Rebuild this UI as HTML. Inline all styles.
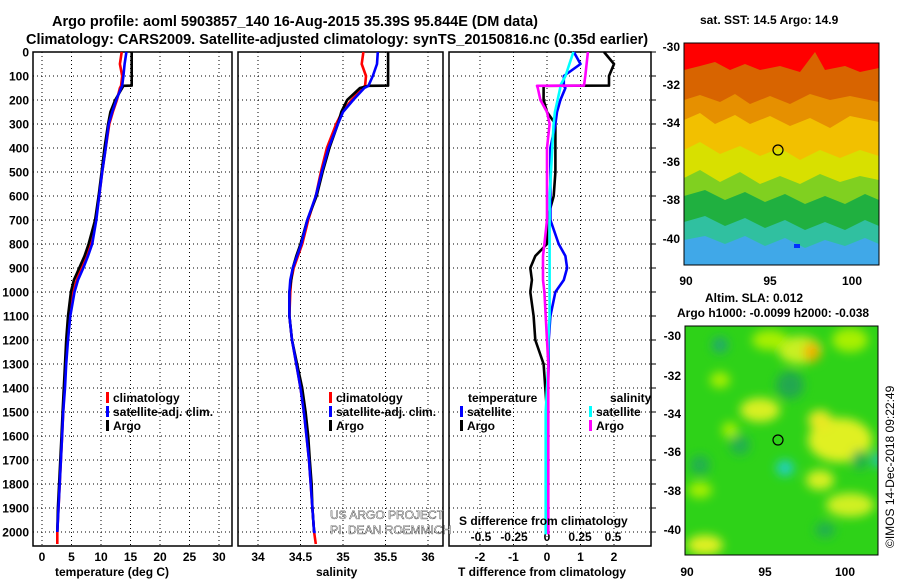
<!DOCTYPE html>
<html><head><meta charset="utf-8"><style>
html,body{margin:0;padding:0;background:#fff}
svg{display:block;font-family:"Liberation Sans",sans-serif}
.b{font-weight:bold;font-size:12px}
</style></head><body>
<svg id="fig" width="900" height="580" viewBox="0 0 900 580">
<defs>
<filter id="blur" x="-50%" y="-50%" width="200%" height="200%"><feGaussianBlur stdDeviation="5"/></filter>
<clipPath id="cm1"><rect x="684" y="43" width="195" height="222"/></clipPath>
<clipPath id="cm2"><rect x="685" y="326" width="193" height="229"/></clipPath>
</defs>
<text x="52" y="26" font-size="14.5" font-weight="bold">Argo profile: aoml 5903857_140 16-Aug-2015 35.39S 95.844E (DM data)</text>
<text x="26" y="44" font-size="14.5" font-weight="bold">Climatology: CARS2009. Satellite-adjusted climatology: synTS_20150816.nc (0.35d earlier)</text>
<g id="panels"></g>
<g class="b">
<rect x="106" y="392" width="3" height="11" fill="#f00"/><text x="113" y="402">climatology</text>
<rect x="106" y="406" width="3" height="11" fill="#00f"/><text x="113" y="416">satellite-adj. clim.</text>
<rect x="106" y="420" width="3" height="11" fill="#000"/><text x="113" y="430">Argo</text>
</g>
<g class="b">
<rect x="329" y="392" width="3" height="11" fill="#f00"/><text x="336" y="402">climatology</text>
<rect x="329" y="406" width="3" height="11" fill="#00f"/><text x="336" y="416">satellite-adj. clim.</text>
<rect x="329" y="420" width="3" height="11" fill="#000"/><text x="336" y="430">Argo</text>
</g>
<g class="b">
<text x="468" y="402">temperature</text>
<rect x="460" y="406" width="3" height="11" fill="#00f"/><text x="467" y="416">satellite</text>
<rect x="460" y="420" width="3" height="11" fill="#000"/><text x="467" y="430">Argo</text>
<text x="610" y="402">salinity</text>
<rect x="589" y="406" width="3" height="11" fill="#0ff"/><text x="596" y="416">satellite</text>
<rect x="589" y="420" width="3" height="11" fill="#f0f"/><text x="596" y="430">Argo</text>
</g>
<g font-size="12" fill="#fff" stroke="#000" stroke-width="0.35">
<text x="330" y="519">US ARGO PROJECT</text>
<text x="330" y="534">PI: DEAN ROEMMICH</text>
</g>
<text x="459" y="525" class="b">S difference from climatology</text>
<text x="55" y="576" class="b">temperature (deg C)</text>
<text x="316" y="576" class="b">salinity</text>
<text x="458" y="576" class="b">T difference from climatology</text>

<text x="700" y="24" class="b">sat. SST: 14.5 Argo: 14.9</text>
<g clip-path="url(#cm1)">
<rect x="684" y="43" width="195" height="222" fill="#ff0000"/>
<polygon points="684,70 700,66 715,62 730,70 745,64 760,70 780,66 800,72 815,52 825,70 845,66 860,72 879,68 879,265 684,265" fill="#d86400"/>
<polygon points="684,100 700,95 720,102 735,94 750,104 770,96 790,104 810,94 830,100 850,96 879,102 879,265 684,265" fill="#e69000"/>
<polygon points="684,120 700,113 715,124 735,115 750,124 770,116 790,126 810,118 830,128 850,116 879,122 879,265 684,265" fill="#f2c000"/>
<polygon points="684,150 700,142 720,154 740,146 760,156 780,148 800,160 820,150 840,158 860,150 879,156 879,265 684,265" fill="#d8e000"/>
<polygon points="684,178 700,170 720,182 740,172 760,184 780,176 800,184 820,174 840,182 860,176 879,180 879,265 684,265" fill="#80d020"/>
<polygon points="684,196 705,190 725,200 745,192 765,202 785,194 805,204 825,196 845,204 865,194 879,200 879,265 684,265" fill="#20b040"/>
<polygon points="684,222 705,216 725,226 745,218 765,228 785,220 805,230 825,222 845,230 865,220 879,226 879,265 684,265" fill="#30c0a0"/>
<polygon points="684,240 705,236 725,244 745,236 765,246 785,238 805,248 825,240 845,246 865,238 879,244 879,265 684,265" fill="#40a8e8"/>
<rect x="794" y="244" width="6" height="4" fill="#0030ff"/>
<circle cx="778" cy="150" r="5" fill="none" stroke="#000" stroke-width="1.2"/>
</g>
<rect x="684" y="43" width="195" height="222" fill="none" stroke="#000"/>
<g class="b" text-anchor="end">
<text x="680" y="51">-30</text><text x="680" y="89">-32</text><text x="680" y="127">-34</text><text x="680" y="166">-36</text><text x="680" y="204">-38</text><text x="680" y="243">-40</text>
</g>
<g class="b" text-anchor="middle">
<text x="686" y="285">90</text><text x="770" y="285">95</text><text x="852" y="285">100</text>
</g>

<text x="705" y="302" class="b">Altim. SLA: 0.012</text>
<text x="677" y="317" class="b">Argo h1000: -0.0099 h2000: -0.038</text>
<g clip-path="url(#cm2)">
<rect x="685" y="326" width="193" height="229" fill="#2ed218"/>
<g filter="url(#blur)">
<ellipse cx="800" cy="350" rx="22" ry="14" fill="#c8f020"/>
<ellipse cx="812" cy="352" rx="8" ry="10" fill="#f0b000"/>
<ellipse cx="770" cy="340" rx="18" ry="10" fill="#a8f000"/>
<ellipse cx="850" cy="340" rx="18" ry="12" fill="#a8f000"/>
<ellipse cx="760" cy="410" rx="20" ry="12" fill="#d8f020"/>
<ellipse cx="840" cy="440" rx="32" ry="22" fill="#e0f020"/>
<ellipse cx="820" cy="420" rx="12" ry="10" fill="#e8e820"/>
<ellipse cx="820" cy="480" rx="14" ry="10" fill="#d8f020"/>
<ellipse cx="850" cy="505" rx="24" ry="12" fill="#d0f020"/>
<ellipse cx="705" cy="545" rx="18" ry="10" fill="#e0f020"/>
<ellipse cx="700" cy="490" rx="12" ry="8" fill="#a8f000"/>
<ellipse cx="730" cy="430" rx="8" ry="8" fill="#a8f000"/>
<ellipse cx="720" cy="380" rx="10" ry="8" fill="#a8f000"/>
<ellipse cx="790" cy="385" rx="14" ry="14" fill="#24a850"/>
<ellipse cx="720" cy="345" rx="8" ry="8" fill="#20a870"/>
<ellipse cx="740" cy="445" rx="10" ry="10" fill="#24b050"/>
<ellipse cx="785" cy="468" rx="9" ry="8" fill="#20d0c0"/>
<ellipse cx="700" cy="465" rx="10" ry="10" fill="#24b050"/>
<ellipse cx="825" cy="530" rx="10" ry="8" fill="#24b050"/>
<ellipse cx="860" cy="460" rx="8" ry="10" fill="#24b050"/>
<ellipse cx="878" cy="460" rx="5" ry="8" fill="#20c0c0"/>
</g>
<circle cx="778" cy="440" r="5" fill="none" stroke="#000" stroke-width="1.2"/>
</g>
<rect x="685" y="326" width="193" height="229" fill="none" stroke="#000"/>
<g class="b" text-anchor="end">
<text x="681" y="340">-30</text><text x="681" y="380">-32</text><text x="681" y="418">-34</text><text x="681" y="456">-36</text><text x="681" y="495">-38</text><text x="681" y="534">-40</text>
</g>
<g class="b" text-anchor="middle">
<text x="687" y="576">90</text><text x="765" y="576">95</text><text x="845" y="576">100</text>
</g>
<text transform="translate(894,548) rotate(-90)" font-size="12">©IMOS 14-Dec-2018 09:22:49</text>
</svg>
<script>
const depths=[0,50,100,140,141,150,200,250,300,400,500,600,700,800,850,900,950,1000,1100,1200,1300,1400,1500,1600,1700,1800,1900,2000,2050];
const tArgo=[15.2,15.2,15.2,15.2,13.8,13.6,12.4,11.6,11.2,10.6,10.1,9.6,9.0,7.9,7.2,6.3,5.4,4.9,4.4,4.1,3.9,3.7,3.5,3.3,3.1,2.9,2.7,2.6,2.6];
const tClim=[13.5,13.2,13.6,13.4,13.4,13.2,12.7,12.0,11.4,10.8,10.2,9.7,9.1,8.3,7.6,6.7,5.9,5.3,4.7,4.3,4.0,3.8,3.6,3.4,3.2,3.0,2.8,2.6,2.6];
const tSat=[14.3,14.0,13.8,13.6,13.6,13.4,12.6,11.9,11.3,10.8,10.2,9.7,9.2,8.5,7.8,7.0,6.1,5.5,4.8,4.4,4.1,3.9,3.6,3.4,3.2,3.0,2.8,2.6,2.6];
const sArgo=[35.53,35.53,35.53,35.53,35.3,35.2,35.05,34.98,34.94,34.84,34.76,34.69,34.58,34.5,34.45,34.41,34.39,34.37,34.37,34.40,34.46,34.52,34.56,34.59,34.61,34.63,34.64,34.66,34.66];
const sClim=[35.24,35.22,35.27,35.26,35.26,35.23,35.1,34.99,34.92,34.81,34.74,34.68,34.59,34.52,34.47,34.42,34.39,34.38,34.37,34.40,34.45,34.50,34.54,34.57,34.60,34.62,34.64,34.66,34.68];
const sSat=[35.41,35.40,35.35,35.3,35.3,35.25,35.12,35.0,34.94,34.83,34.75,34.68,34.58,34.51,34.46,34.41,34.38,34.37,34.37,34.40,34.45,34.50,34.54,34.57,34.60,34.62,34.64,34.66,34.68];
const dTArgo=[1.7,2.0,1.85,1.85,-0.1,-0.1,-0.1,0.0,0.25,0.25,0.25,0.2,0.0,0.0,-0.35,-0.5,-0.45,-0.5,-0.4,-0.35,-0.1,-0.05,0,0,0,0,0,0,0];
const dTSat=[0.8,1.0,0.5,0.5,0.5,0.55,0.4,0.3,0.25,0.1,0.1,0.1,0.1,0.35,0.55,0.6,0.5,0.25,0.1,0.05,0.05,0.03,0.02,0.02,0.02,0,0,0,0];
const dSArgo=[0.31,0.3,0.29,0.28,-0.076,-0.07,-0.05,0.0,0.02,0.0,0.0,0.0,0.0,-0.02,-0.03,-0.03,-0.03,-0.02,-0.01,0,0.01,0.01,0.01,0.01,0.01,0.01,0.01,0.01,0.01];
const dSSat=[0.2,0.17,0.14,0.1,0.1,0.1,0.08,0.06,0.05,0.04,0.03,0.02,0.02,0.02,0.02,0.02,0.02,0.02,0.02,0.01,0.01,0,-0.01,-0.01,-0.01,-0.01,-0.01,-0.01,-0.01];
const depthTicks=[0,100,200,300,400,500,600,700,800,900,1000,1100,1200,1300,1400,1500,1600,1700,1800,1900,2000];
const tTicks=[0,5,10,15,20,25,30];
const sTicks=[34,34.5,35,35.5,36];
const sTickLabels=["34","34.5","35","35.5","36"];
const dTTicks=[-2,-1,0,1,2];
const dSTicks=[-0.5,-0.25,0,0.25,0.5];
const dSTickLabels=["-0.5","-0.25","0","0.25","0.5"];

const NS='http://www.w3.org/2000/svg';
const g=document.getElementById('panels');
const top0=52, bot=546;
const yD=d=>top0+d*0.24;
function mk(t,a,p){const e=document.createElementNS(NS,t);for(const k in a)e.setAttribute(k,a[k]);(p||g).appendChild(e);return e;}
function lin(x0,x1,v0,v1){return v=>x0+(v-v0)*(x1-x0)/(v1-v0);}
const panels=[
 {name:'temperature',x0:33,x1:232,fx:lin(42,219,0,30),ticks:tTicks,labels:tTicks.map(String)},
 {name:'salinity',x0:238,x1:443,fx:lin(258,428,34,36),ticks:sTicks,labels:sTickLabels},
 {name:'difference',x0:449,x1:651,fx:lin(547,614,0,2),ticks:dTTicks,labels:dTTicks.map(String)}
];
panels.forEach((p,i)=>{
 const grp=mk('g',{});
 
 
 depthTicks.forEach(d=>{const l=mk('line',{x1:p.x0,x2:p.x1,y1:yD(d),y2:yD(d),stroke:'#000','stroke-width':1,'stroke-dasharray':'1 3'},grp);
  
  
  if(i===0){const t=mk('text',{x:29,y:yD(d)+4.5,'text-anchor':'end',class:'b'},grp);t.textContent=d;
   
   }
  if(i===2){mk('line',{x1:p.x1,x2:p.x1+5,y1:yD(d),y2:yD(d),stroke:'#000'},grp);}
 });
 p.ticks.forEach((v,j)=>{const x=p.fx(v);
  const l=mk('line',{x1:x,x2:x,y1:top0,y2:bot,stroke:'#000','stroke-width':1,'stroke-dasharray':'1 3'},grp);
  
  
  const t=mk('text',{x:x,y:561,'text-anchor':'middle',class:'b'},grp);t.textContent=p.labels[j];
  
  
 });
 const fr=mk('rect',{x:p.x0,y:top0,width:p.x1-p.x0,height:bot-top0,fill:'none',stroke:'#000','stroke-width':1.5},grp);
 
 
});
const fS=lin(547,613,0,0.5);
dSTicks.forEach((v,j)=>{const t=mk('text',{x:fS(v),y:541,'text-anchor':'middle',class:'b'});t.textContent=dSTickLabels[j];
 
 });
function series(vals,fx,color,name,lim){
 const pts=vals.map((v,k)=>fx(v).toFixed(1)+','+yD(Math.min(depths[k],lim)).toFixed(1)).join(' ');
 const e=mk('polyline',{points:pts,fill:'none',stroke:color,'stroke-width':2.6,'stroke-linejoin':'round'});
 
 
}
const fT=panels[0].fx, fSal=panels[1].fx, fD=panels[2].fx;
series(tClim,fT,'#f00','temperature-climatology-line',2060);
series(tArgo,fT,'#000','temperature-argo-line',2000);
series(tSat,fT,'#00f','temperature-satellite-line',2000);
series(sClim,fSal,'#f00','salinity-climatology-line',2060);
series(sArgo,fSal,'#000','salinity-argo-line',2000);
series(sSat,fSal,'#00f','salinity-satellite-line',2000);
series(dTArgo,fD,'#000','t-diff-argo-line',1960);
series(dTSat,fD,'#00f','t-diff-satellite-line',1960);
series(dSSat,fS,'#0ff','s-diff-satellite-line',2010);
series(dSArgo,fS,'#f0f','s-diff-argo-line',2010);
</script>
</body></html>
